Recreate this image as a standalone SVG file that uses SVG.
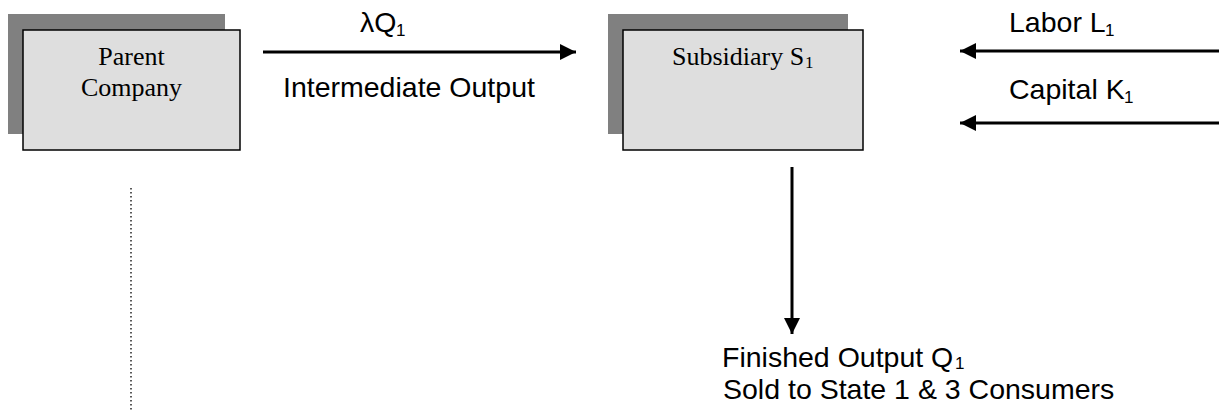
<svg xmlns="http://www.w3.org/2000/svg" width="1219" height="410" viewBox="0 0 1219 410">
  <style>
    .shadow { fill: #808080; }
    .box { fill: #dedede; stroke: #000; stroke-width: 1.5; }
    .serif { font-family: "Liberation Serif", "Times New Roman", serif; font-size: 26px; fill: #000; }
    .sans { font-family: "Liberation Sans", Arial, sans-serif; font-size: 28.5px; fill: #000; }
    .sub-sans { font-family: "Liberation Sans", Arial, sans-serif; font-size: 17px; fill: #000; }
    .sub-serif { font-family: "Liberation Serif", "Times New Roman", serif; font-size: 17px; fill: #000; }
    .flow { stroke: #000; stroke-width: 3; fill: none; marker-end: url(#head); }
    .guide { stroke: #222; stroke-width: 1.5; stroke-dasharray: 1.5 2.5; fill: none; }
  </style>
  <defs>
    <marker id="head" markerUnits="userSpaceOnUse" markerWidth="16" markerHeight="16" refX="16" refY="8" orient="auto">
      <polygon points="0,0 16,8 0,16" fill="#000"/>
    </marker>
  </defs>

  <rect width="1219" height="410" fill="#fff"/>

  <!-- Parent company block -->
  <g id="parent">
    <rect class="shadow" x="8" y="14" width="217" height="120"/>
    <rect class="box" x="23" y="30" width="217" height="120"/>
    <text class="serif" x="131.5" y="65" text-anchor="middle">Parent</text>
    <text class="serif" x="131.5" y="96" text-anchor="middle">Company</text>
  </g>

  <!-- Subsidiary block -->
  <g id="subsidiary">
    <rect class="shadow" x="608" y="14" width="240" height="120"/>
    <rect class="box" x="623" y="30" width="240" height="120"/>
    <text class="serif" x="672" y="65">Subsidiary S</text>
    <text class="sub-serif" x="805" y="68">1</text>
  </g>

  <!-- Flows between blocks -->
  <g id="connectors">
    <line class="flow" x1="263" y1="52" x2="576" y2="52"/>
    <line class="flow" x1="1219" y1="51" x2="960" y2="51"/>
    <line class="flow" x1="1219" y1="123" x2="960" y2="123"/>
    <line class="flow" x1="792" y1="167" x2="792" y2="334"/>
    <line class="guide" x1="131" y1="188" x2="131" y2="410"/>
  </g>

  <!-- Flow labels -->
  <g id="labels">
    <text class="sans" x="360" y="32">λQ</text>
    <text class="sub-sans" x="396" y="36">1</text>
    <text class="sans" x="283" y="97">Intermediate Output</text>

    <text class="sans" x="1009" y="32">Labor L</text>
    <text class="sub-sans" x="1105" y="36">1</text>
    <text class="sans" x="1009" y="99">Capital K</text>
    <text class="sub-sans" x="1124" y="103">1</text>

    <text class="sans" x="722" y="367">Finished Output Q</text>
    <text class="sub-sans" x="955" y="369">1</text>
    <text class="sans" x="723" y="399">Sold to State 1 &amp; 3 Consumers</text>
  </g>
</svg>
